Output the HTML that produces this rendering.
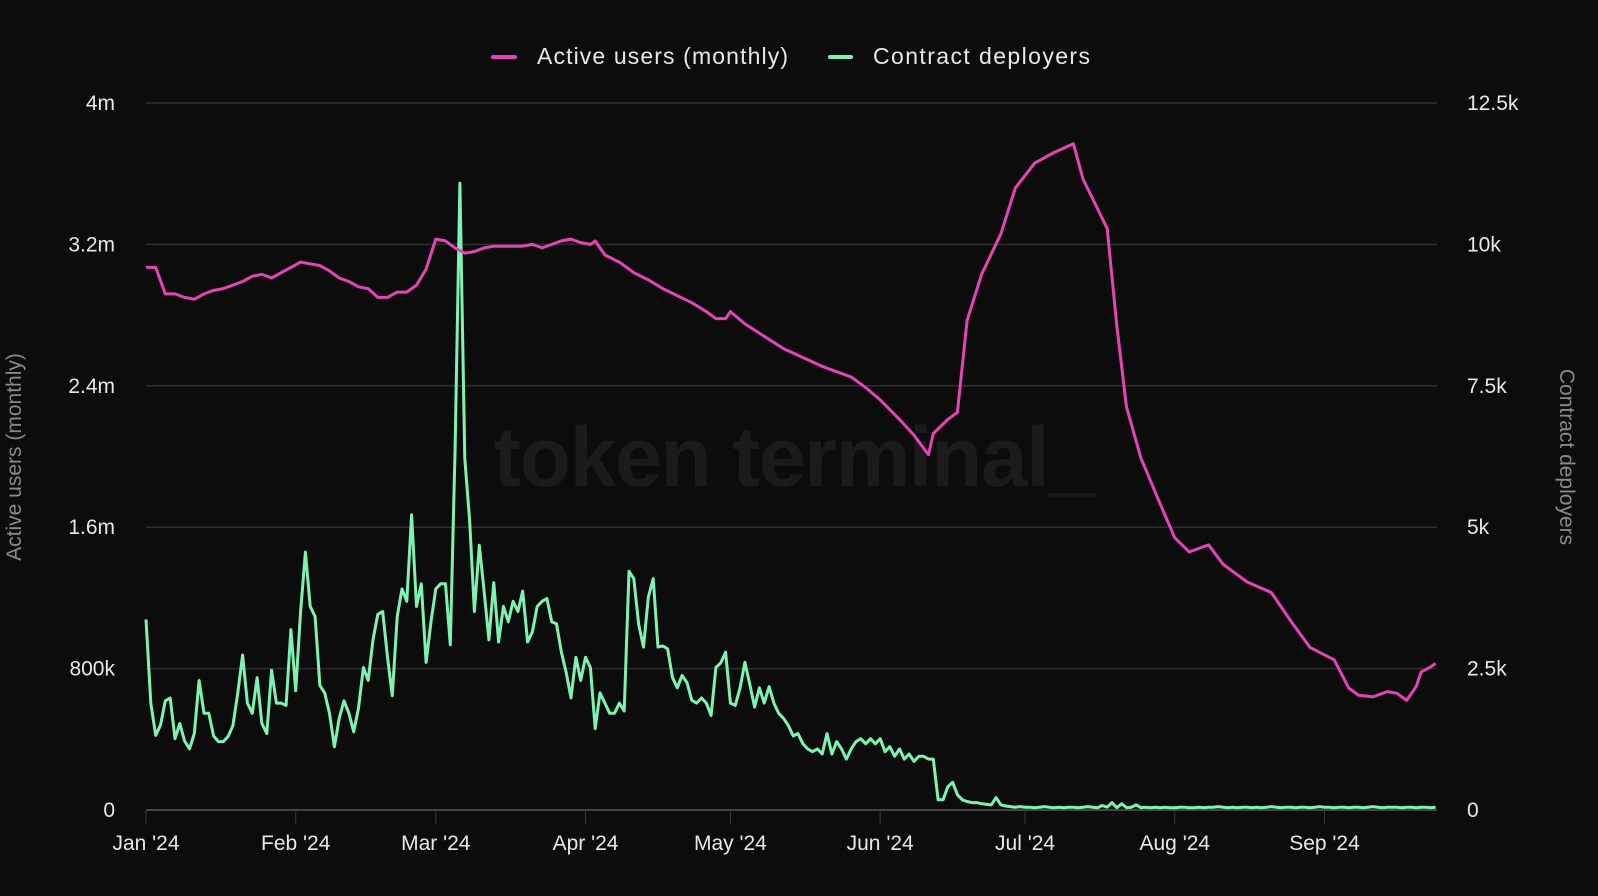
<!DOCTYPE html>
<html><head><meta charset="utf-8"><style>
html,body{margin:0;padding:0;background:#0c0c0c;}
svg{display:block;font-family:"Liberation Sans",sans-serif;}
</style></head><body>
<svg id="chart" width="1598" height="896" viewBox="0 0 1598 896">
<rect width="1598" height="896" fill="#0c0c0c"/>
<text x="794" y="486" text-anchor="middle" font-size="84" font-weight="bold" fill="#1b1b1b" textLength="602">token terminal_</text>
<g id="grid"></g>
<g id="axes"></g>
<g id="series"></g>
<g>
<g>
<line x1="493" y1="57" x2="515" y2="57" stroke="#e544b6" stroke-width="4" stroke-linecap="round"/>
<text x="537" y="64" font-size="23" fill="#e8e8e8" textLength="251">Active users (monthly)</text></g>
<g>
<line x1="830" y1="57" x2="851" y2="57" stroke="#7ef2b2" stroke-width="4" stroke-linecap="round"/>
<text x="873" y="64" font-size="23" fill="#e8e8e8" textLength="217">Contract deployers</text></g>
</g>
<text transform="translate(21,457) rotate(-90)" text-anchor="middle" font-size="21" fill="#8a8a8a">Active users (monthly)</text>
<text transform="translate(1560,457) rotate(90)" text-anchor="middle" font-size="21" fill="#8a8a8a">Contract deployers</text>
</svg>
<script>
const monthLabels=["Jan '24","Feb '24","Mar '24","Apr '24","May '24","Jun '24","Jul '24","Aug '24","Sep '24"];
const monthDays=[0,31,60,91,121,152,182,213,244];
const leftTicks=[0,0.8,1.6,2.4,3.2,4];
const leftTickLabels=["0","800k","1.6m","2.4m","3.2m","4m"];
const rightTicks=[0,2.5,5,7.5,10,12.5];
const rightTickLabels=["0","2.5k","5k","7.5k","10k","12.5k"];
const auDays=[0,2,4,6,8,10,12,14,16,18,20,22,24,26,28,30,32,34,36,38,40,42,44,46,48,50,52,54,56,58,60,62,64,66,68,70,72,74,76,78,80,82,84,86,88,90,92,93,95,98,101,104,107,110,113,116,118,120,121,124,128,132,136,140,143,146,149,152,156,159,162,163,166,168,170,173,177,180,184,188,192,194,199,201,203,206,210,213,216,220,223,228,233,237,241,246,249,251,254,257,259,261,263,264,266,267];
const auVals=[3.07,3.07,2.92,2.92,2.90,2.89,2.92,2.94,2.95,2.97,2.99,3.02,3.03,3.01,3.04,3.07,3.10,3.09,3.08,3.05,3.01,2.99,2.96,2.95,2.90,2.90,2.93,2.93,2.97,3.06,3.23,3.22,3.18,3.15,3.16,3.18,3.19,3.19,3.19,3.19,3.20,3.18,3.20,3.22,3.23,3.21,3.20,3.22,3.14,3.10,3.04,3.00,2.95,2.91,2.87,2.82,2.78,2.78,2.82,2.75,2.68,2.61,2.56,2.51,2.48,2.45,2.39,2.32,2.21,2.12,2.01,2.13,2.21,2.25,2.77,3.03,3.26,3.52,3.66,3.72,3.77,3.57,3.29,2.74,2.28,1.99,1.73,1.54,1.46,1.50,1.39,1.29,1.23,1.07,0.92,0.85,0.69,0.65,0.64,0.67,0.66,0.62,0.70,0.78,0.81,0.83];
const depVals=[3.37,1.89,1.32,1.50,1.93,1.98,1.26,1.53,1.22,1.08,
1.35,2.29,1.71,1.71,1.31,1.21,1.21,1.30,1.49,2.07,
2.74,1.89,1.71,2.34,1.53,1.35,2.47,1.89,1.89,1.85,
3.19,2.11,3.51,4.56,3.60,3.42,2.20,2.07,1.71,1.12,
1.62,1.93,1.71,1.38,1.80,2.52,2.29,3.01,3.46,3.51,
2.70,2.02,3.42,3.91,3.69,5.22,3.60,4.00,2.61,3.33,
3.91,4.00,4.00,2.92,6.39,11.08,
6.21,5.13,3.51,4.68,3.87,3.01,4.02,2.97,3.60,3.33,3.69,3.51,3.87,2.97,3.15,3.60,3.69,3.74,3.33,3.29,2.79,2.43,1.98,2.70,2.29,2.70,2.52,1.44,2.07,1.89,1.71,1.71,1.89,
1.75,
4.22,4.09,3.28,2.88,3.76,4.09,2.88,2.90,2.85,2.34,2.16,2.38,2.25,1.94,1.89,1.98,1.89,
1.67,2.52,2.60,2.79,1.89,1.85,2.16,2.61,2.22,1.82,2.16,1.89,2.18,
1.89,1.71,1.62,1.49,1.31,1.35,1.17,1.08,1.03,1.08,0.99,1.35,0.99,1.21,1.08,0.90,1.08,1.21,1.26,1.17,
1.26,1.17,1.26,1.03,1.12,0.95,1.08,0.90,0.99,0.86,0.95,0.95,0.90,0.90,
0.18,0.18,0.41,0.49,0.27,0.18,0.15,0.13,0.13,0.11,0.10,0.09,0.22,0.09,
0.07,0.06,0.05,0.06,0.05,0.05,0.04,0.05,0.06,0.05,0.04,0.05,0.04,0.05,0.05,0.04,0.05,0.06,0.05,0.04,0.08,0.05,0.13,0.04,0.11,0.04,0.05,0.09,0.04,0.05,0.04,0.05,
0.04,0.05,0.04,0.04,0.05,0.05,0.04,0.04,0.05,0.04,0.05,0.05,0.06,0.05,0.04,0.05,0.04,0.05,0.05,0.04,0.05,0.04,0.05,0.06,0.05,0.04,0.05,0.05,0.04,0.05,
0.05,0.04,0.05,0.06,0.05,0.05,0.04,0.05,0.05,0.04,0.05,0.05,0.04,0.05,0.06,0.05,0.04,0.05,0.05,0.05,0.04,0.05,0.05,0.04,0.05,0.05,0.04,0.05];

const NS="http://www.w3.org/2000/svg";
const X0=146,PXD=4.83,YT=103,YB=810;
const xS=d=>X0+d*PXD;
const yL=v=>YB-(v/4)*(YB-YT);
const yR=v=>YB-(v/12.5)*(YB-YT);
function mk(parent,tag,attrs){const e=document.createElementNS(NS,tag);for(const k in attrs)e.setAttribute(k,attrs[k]);parent.appendChild(e);return e;}
const grid=document.getElementById('grid'),axes=document.getElementById('axes'),ser=document.getElementById('series');
leftTicks.forEach((t,i)=>{
  if(t>0){const g=mk(grid,'line',{x1:X0,x2:1437,y1:yL(t),y2:yL(t),stroke:'#2e2e2e','stroke-width':1.5});
  
  }
  const tx=mk(axes,'text',{x:115,y:yL(t)+7,'text-anchor':'end','font-size':21,fill:'#e8e8e8'});tx.textContent=leftTickLabels[i];
  
  
});
rightTicks.forEach((t,i)=>{
  const tx=mk(axes,'text',{x:1467,y:yR(t)+7,'font-size':21,fill:'#e8e8e8'});tx.textContent=rightTickLabels[i];
  
  
});
const base=mk(axes,'line',{x1:X0,x2:1437,y1:YB,y2:YB,stroke:'#444','stroke-width':2});


monthDays.forEach((d,i)=>{
  const tk=mk(axes,'line',{x1:xS(d),x2:xS(d),y1:YB,y2:YB+14,stroke:'#3a3a3a','stroke-width':1});
  
  
  const tx=mk(axes,'text',{x:xS(d),y:850,'text-anchor':'middle','font-size':21,fill:'#e8e8e8'});tx.textContent=monthLabels[i];
  
  
});
const dp=mk(ser,'path',{d:depVals.map((v,i)=>(i?'L':'M')+xS(i).toFixed(1)+','+yR(v).toFixed(1)).join(''),fill:'none',stroke:'#7ef2b2','stroke-width':3,'stroke-linejoin':'round'});


const ap=mk(ser,'path',{d:auVals.map((v,i)=>(i?'L':'M')+xS(auDays[i]).toFixed(1)+','+yL(v).toFixed(1)).join(''),fill:'none',stroke:'#e544b6','stroke-width':3,'stroke-linejoin':'round'});


</script>
</body></html>
